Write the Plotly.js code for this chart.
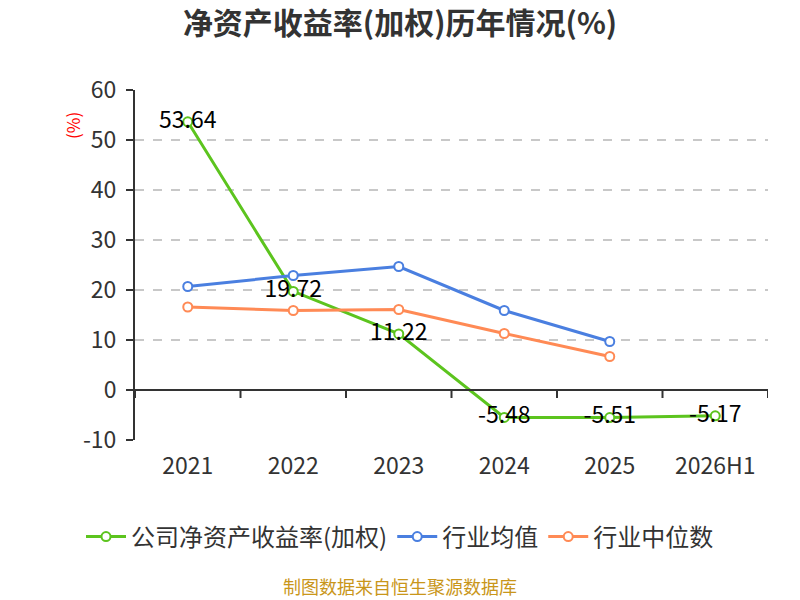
<!DOCTYPE html>
<html>
<head>
<meta charset="utf-8">
<script src="https://cdn.plot.ly/plotly-3.0.1.min.js"></script>
<style>html,body{margin:0;padding:0;background:#fff;}#chart{width:800px;height:600px;}</style>
</head>
<body>
<div id="chart"></div>
<script>
const categories = ['2021', '2022', '2023', '2024', '2025', '2026H1'];
const companyROE = [53.64, 19.72, 11.22, -5.48, -5.51, -5.17];
const industryMean = [20.7, 22.9, 24.7, 15.9, 9.7];
const industryMedian = [16.6, 15.9, 16.1, 11.3, 6.7];
const seriesNames = ['公司净资产收益率(加权)', '行业均值', '行业中位数'];
const yTicks = [-10, 0, 10, 20, 30, 40, 50, 60];

const FONT = '"Noto Sans CJK SC", "Microsoft YaHei", sans-serif';
const colors = ['#5cc41e', '#4a7fe0', '#ff8a55'];

function mk(name, x, y, color, withText) {
  const t = {
    type: 'scatter',
    name: name,
    x: x,
    y: y,
    mode: withText ? 'lines+markers+text' : 'lines+markers',
    line: {color: color, width: 3},
    marker: {symbol: 'circle', size: 9, color: '#ffffff', line: {color: color, width: 2}},
    cliponaxis: false
  };
  if (withText) {
    t.text = y.map(v => v.toFixed(2));
    t.textposition = 'middle center';
    t.textfont = {family: FONT, size: 23, color: '#000'};
  }
  return t;
}

const data = [
  mk(seriesNames[0], categories, companyROE, colors[0], true),
  mk(seriesNames[1], categories.slice(0, industryMean.length), industryMean, colors[1], false),
  mk(seriesNames[2], categories.slice(0, industryMedian.length), industryMedian, colors[2], false)
];

const shapes = [{
  type: 'line', xref: 'paper', yref: 'y', x0: 0, x1: 1, y0: 0, y1: 0,
  line: {color: '#333', width: 2}, layer: 'above'
}];
for (let i = 0; i <= categories.length; i++) {
  shapes.push({
    type: 'line', xref: 'x', yref: 'y', x0: i - 0.5, x1: i - 0.5, y0: 0, y1: -1.6,
    line: {color: '#333', width: 2}
  });
}

const layout = {
  width: 800, height: 600,
  paper_bgcolor: '#fff', plot_bgcolor: '#fff',
  margin: {l: 135, r: 32, t: 90, b: 160, autoexpand: false},
  font: {family: FONT, color: '#333'},
  title: {
    text: '<b>净资产收益率(加权)历年情况(%)</b>',
    font: {family: FONT, size: 30, color: '#333'},
    x: 0.5, xanchor: 'center', y: 1 - 23 / 600, yanchor: 'middle', yref: 'container'
  },
  xaxis: {
    type: 'category',
    range: [-0.5, categories.length - 0.5],
    showgrid: false, zeroline: false, showline: false,
    ticks: 'outside', ticklen: 5, tickcolor: 'rgba(0,0,0,0)',
    tickfont: {family: FONT, size: 23, color: '#333'},
    fixedrange: true
  },
  yaxis: {
    range: [-10, 60],
    tickvals: yTicks,
    ticktext: yTicks.map(String),
    showgrid: true, gridcolor: '#c8c8c8', griddash: 'dash', gridwidth: 1.5,
    zeroline: false,
    showline: true, linecolor: '#333', linewidth: 2,
    ticks: 'outside', ticklen: 7, tickcolor: '#333', tickwidth: 2,
    ticklabelstandoff: 5,
    tickfont: {family: FONT, size: 23, color: '#333'},
    fixedrange: true
  },
  shapes: shapes,
  showlegend: true,
  legend: {
    orientation: 'h', x: (400 - 135) / 633, xanchor: 'center',
    y: (440 - 537) / 350, yanchor: 'middle',
    font: {family: FONT, size: 24, color: '#333'},
    itemwidth: 40, traceorder: 'normal'
  },
  annotations: [
    {
      text: '(%)', xref: 'paper', yref: 'paper',
      x: (72 - 135) / 633, y: (440 - 126) / 350, xanchor: 'center', yanchor: 'middle',
      textangle: -90, showarrow: false,
      font: {family: FONT, size: 17, color: '#ff0000'}
    },
    {
      text: '制图数据来自恒生聚源数据库', xref: 'paper', yref: 'paper',
      x: (400 - 135) / 633, y: (440 - 586) / 350, xanchor: 'center', yanchor: 'middle',
      showarrow: false,
      font: {family: FONT, size: 18, color: '#c9961a'}
    }
  ]
};

Plotly.newPlot('chart', data, layout, {displayModeBar: false, staticPlot: true});
</script>
</body>
</html>
